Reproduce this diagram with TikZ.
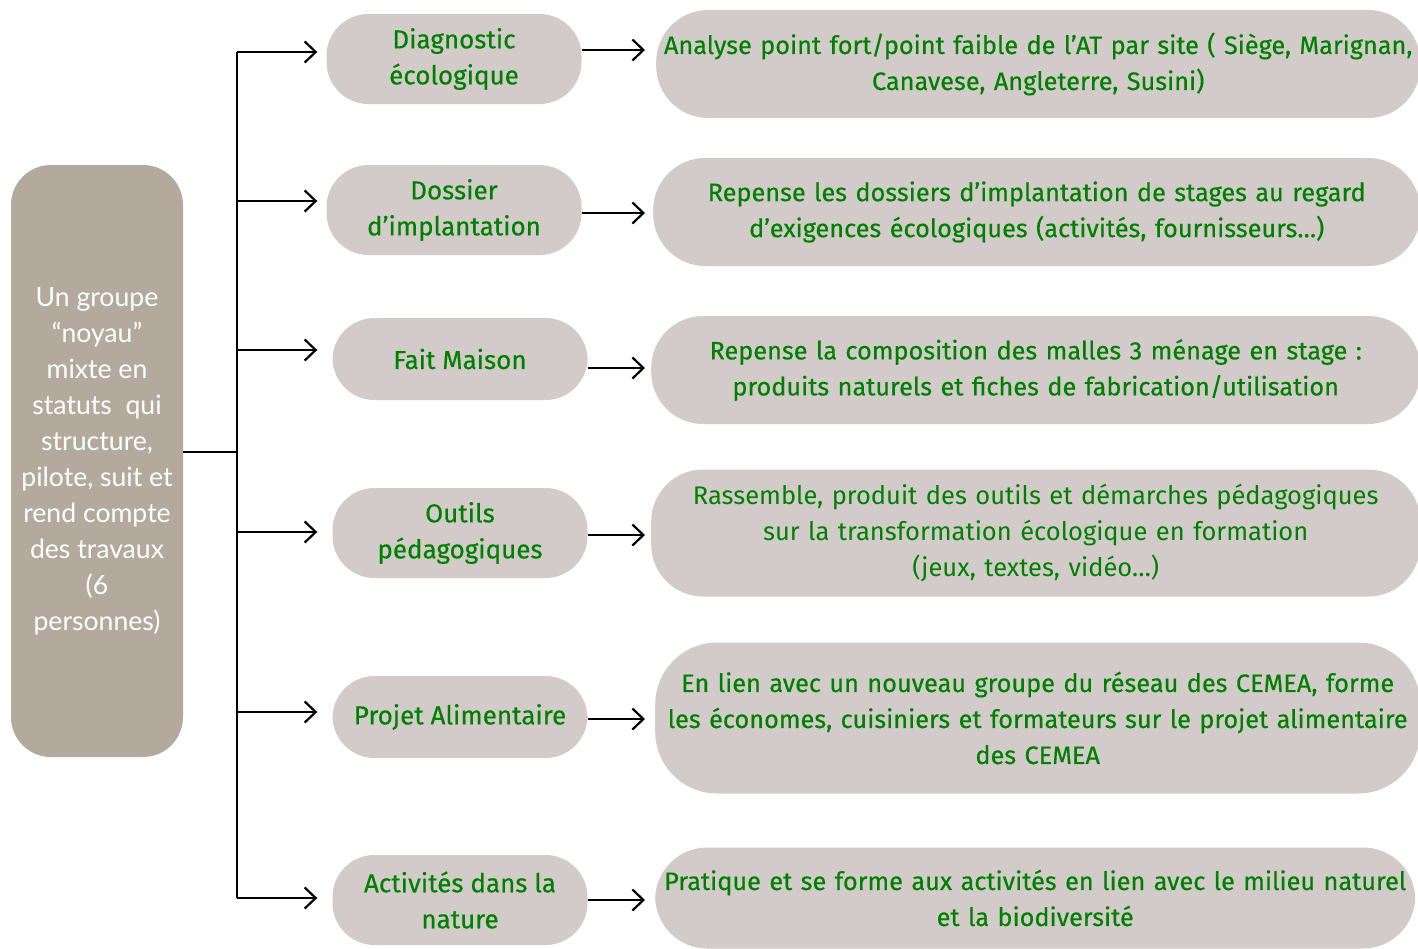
\documentclass[tikz,border=0pt]{standalone}
\usepackage{fontspec}
\setmainfont{Fira Sans}[FakeBold=0.4]
\newfontfamily\leftfont{Lato}
\newfontfamily\condfont{Fira Sans}
\usetikzlibrary{arrows.meta}
\definecolor{boxgray}{HTML}{D3CBC9}
\definecolor{leftgray}{HTML}{B4A99D}
\definecolor{txtgreen}{RGB}{0,128,0}
\tikzset{
  arr/.style={line width=2pt,-{Straight Barb[length=11pt,width=21pt,line width=2.2pt]}},
  trunk/.style={line width=2pt},
  midbox/.style={fill=boxgray,minimum width=255pt,rounded corners=42pt,align=center,text=txtgreen,
     font=\fontsize{26}{36}\selectfont, inner sep=0pt},
  rightbox/.style={fill=boxgray,anchor=west,rounded corners=52pt,align=center,text=txtgreen,
     font=\fontsize{25.3}{36}\selectfont, inner sep=0pt},
}
\begin{document}
\begin{tikzpicture}[x=1pt,y=-1pt]
\useasboundingbox (0,0) rectangle (1418,948);
\begin{scope}
\clip (0,0) rectangle (1418,948);
% left box
\node[fill=leftgray,rounded corners=40pt,minimum width=172pt,minimum height=592pt,
  text=white,align=center,font=\leftfont\fontsize{26.6}{36}\selectfont,inner sep=0pt]
  (L) at (97,461) {Un groupe\\“noyau”\\mixte en\\statuts\ \ qui\\structure,\\pilote, suit et\\rend compte\\des travaux\\(6\\personnes)};
% middle boxes
\node[midbox,minimum height=90pt] (m1) at (454,59) {Diagnostic\\écologique};
\node[midbox,minimum height=90pt] (m2) at (454,210) {Dossier\\d’implantation};
\node[midbox,minimum height=82pt] (m3) at (460,359) {Fait Maison};
\node[midbox,minimum height=90pt] (m4) at (460,533) {Outils\\pédagogiques};
\node[midbox,minimum height=82pt] (m5) at (460,717) {Projet Alimentaire};
\node[midbox,minimum height=90pt] (m6) at (460,900) {Activités dans la\\nature};
% right boxes
\node[rightbox,minimum height=108pt,text width=764pt] (r1) at (656,64) {Analyse point fort/point faible de l’AT par site ( Siège, Marignan,\\Canavese, Angleterre, Susini)};
\node[rightbox,minimum height=108pt,text width=767pt] (r2) at (653,212) {Repense les dossiers d’implantation de stages au regard\\d’exigences écologiques (activités, fournisseurs…)};
\node[rightbox,minimum height=108pt,text width=769pt] (r3) at (651,370) {Repense la composition des malles 3 ménage en stage :\\produits naturels et fiches de fabrication/utilisation};
\node[rightbox,minimum height=127pt,text width=769pt,font=\condfont\fontsize{25.5}{36}\selectfont] (r4) at (651,533) {Rassemble, produit des outils et démarches pédagogiques\\sur la transformation écologique en formation\\(jeux, textes, vidéo…)};
\node[rightbox,minimum height=151pt,text width=765pt,rounded corners=62pt] (r5) at (655,718) {En lien avec un nouveau groupe du réseau des CEMEA, forme\\les économes, cuisiniers et formateurs sur le projet alimentaire\\des CEMEA};
\node[rightbox,minimum height=101pt,text width=760pt] (r6) at (655,898) {Pratique et se forme aux activités en lien avec le milieu naturel\\et la biodiversité};
\end{scope}
% trunk
\coordinate (j) at (237,452);
\coordinate (b1) at (237,52);
\coordinate (b2) at (237,201);
\coordinate (b3) at (237,350);
\coordinate (b4) at (237,532);
\coordinate (b5) at (237,712);
\coordinate (b6) at (237,898);
\draw[trunk] (j -| L.east) -- (j);
\draw[trunk] (b1) -- (b6);
\draw[arr,shorten >=9pt] (b1) -- (b1 -| m1.west);
\draw[arr,shorten >=9pt] (b2) -- (b2 -| m2.west);
\draw[arr,shorten >=15pt] (b3) -- (b3 -| m3.west);
\draw[arr,shorten >=15pt] (b4) -- (b4 -| m4.west);
\draw[arr,shorten >=15pt] (b5) -- (b5 -| m5.west);
\draw[arr,shorten >=15pt] (b6) -- (b6 -| m6.west);
% middle to right
\draw[arr,shorten >=11pt] (m1.east |- 0,50) -- (r1.west |- 0,50);
\draw[arr,shorten >=8pt] (m2.east |- 0,213) -- (r2.west |- 0,213);
\draw[arr,shorten >=6pt] (m3.east |- 0,368) -- (r3.west |- 0,368);
\draw[arr,shorten >=6pt] (m4.east |- 0,535) -- (r4.west |- 0,535);
\draw[arr,shorten >=10pt] (m5.east |- 0,719) -- (r5.west |- 0,719);
\draw[arr,shorten >=10pt] (m6.east |- 0,900) -- (r6.west |- 0,900);
\end{tikzpicture}
\end{document}
